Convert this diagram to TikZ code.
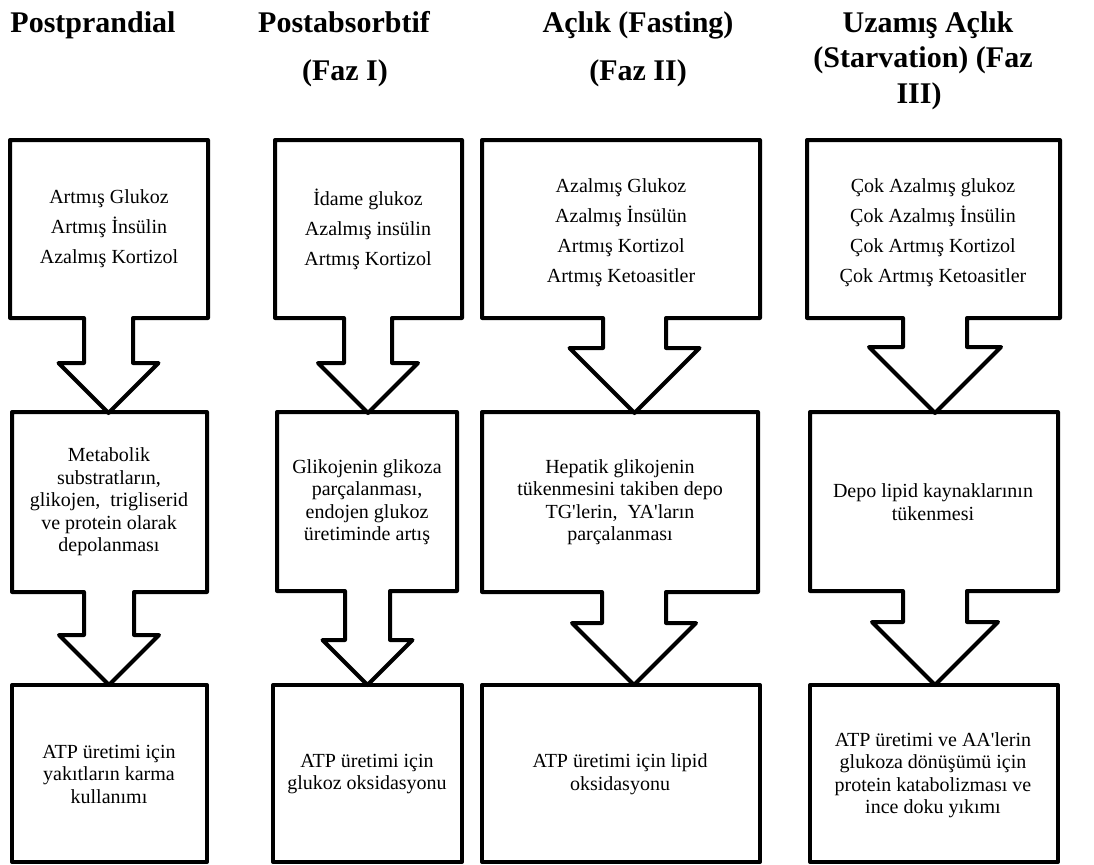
\documentclass[tikz,border=0pt]{standalone}
\usepackage{fontspec}
\setmainfont{Liberation Serif}
\tikzset{
  cbox/.style={line width=4pt, line join=round},
  plainbox/.style={line width=4pt, line join=round},
  bodytxt/.style={align=center, font=\fontsize{20}{22.5}\selectfont, inner sep=0pt},
  toptxt/.style={align=center, font=\fontsize{20}{30}\selectfont, inner sep=0pt},
  headtxt/.style={align=center, font=\fontsize{30}{35}\selectfont\bfseries, inner sep=0pt, anchor=base},
}
% #1 L, #2 T, #3 R, #4 B, #5 stemL, #6 stemR, #7 headY, #8 tipY
\newcommand\arrowboxdraw[8]{%
  \draw[cbox] (#1,#2) -- (#3,#2) -- (#3,#4) -- (#6,#4) -- (#6,#7)
    -- ({(#5+#6)/2+(#8-#7)},#7) -- ({(#5+#6)/2},#8)
    -- ({(#5+#6)/2-(#8-#7)},#7) -- (#5,#7) -- (#5,#4) -- (#1,#4) -- cycle;}
\begin{document}
\begin{tikzpicture}[x=1pt,y=-1pt]
\useasboundingbox (0,0) rectangle (1094,864);
% headers
\node[headtxt] (h1) at (93,33) {Postprandial};
\node[headtxt] (h2a) at (344,33) {Postabsorbtif};
\node[headtxt] (h2b) at (345,81) {(Faz I)};
\node[headtxt] (h3a) at (638,33) {Açlık (Fasting)};
\node[headtxt] (h3b) at (638,81) {(Faz II)};
\node[headtxt] (h4a) at (928,33) {Uzamış Açlık};
\node[headtxt] (h4b) at (923,68) {(Starvation) (Faz};
\node[headtxt] (h4c) at (919,103) {III)};
% column 1
\arrowboxdraw{10}{140}{208}{318}{84}{133}{363}{413}
\arrowboxdraw{12}{412}{207}{592}{84}{134}{635}{685}
\draw[plainbox] (12,685) rectangle (207,862);
% column 2
\arrowboxdraw{275}{140}{462}{318}{344}{392}{363}{413}
\arrowboxdraw{277}{412}{457}{591}{345}{390}{640}{685}
\draw[plainbox] (273,685) rectangle (462,862);
% column 3
\arrowboxdraw{482}{140}{760}{318}{603}{666}{348}{413}
\arrowboxdraw{482}{412}{758}{592}{602}{666}{623}{685}
\draw[plainbox] (482,685) rectangle (760,862);
% column 4
\arrowboxdraw{807}{140}{1060}{318}{903}{967}{347}{413}
\arrowboxdraw{810}{412}{1058}{591}{903}{967}{622}{685}
\draw[plainbox] (810,685) rectangle (1058,862);
% texts
\node[toptxt] (t1) at (109,229) {Artmış Glukoz\\Artmış İnsülin\\Azalmış Kortizol};
\node[toptxt] (t2) at (368,229) {İdame glukoz\\Azalmış insülin\\Artmış Kortizol};
\node[toptxt] (t3) at (621,233) {Azalmış Glukoz\\Azalmış İnsülün\\Artmış Kortizol\\Artmış Ketoasitler};
\node[toptxt] (t4) at (933,233) {Çok Azalmış glukoz\\Çok Azalmış İnsülin\\Çok Artmış Kortizol\\Çok Artmış Ketoasitler};
\node[bodytxt] (m1) at (109,502) {Metabolik\\substratların,\\glikojen,\ \ trigliserid\\ve protein olarak\\depolanması};
\node[bodytxt] (m2) at (367,502) {Glikojenin glikoza\\parçalanması,\\endojen glukoz\\üretiminde artış};
\node[bodytxt] (m3) at (620,502) {Hepatik glikojenin\\tükenmesini takiben depo\\TG\textquotesingle lerin,\ \ YA\textquotesingle ların\\parçalanması};
\node[bodytxt] (m4) at (933,502) {Depo lipid kaynaklarının\\tükenmesi};
\node[bodytxt] (b1) at (109,774) {ATP üretimi için\\yakıtların karma\\kullanımı};
\node[bodytxt] (b2) at (367,774) {ATP üretimi için\\glukoz oksidasyonu};
\node[bodytxt] (b3) at (620,774) {ATP üretimi için lipid\\oksidasyonu};
\node[bodytxt] (b4) at (933,775) {ATP üretimi ve AA\textquotesingle lerin\\glukoza dönüşümü için\\protein katabolizması ve\\ince doku yıkımı};
\end{tikzpicture}
\end{document}
